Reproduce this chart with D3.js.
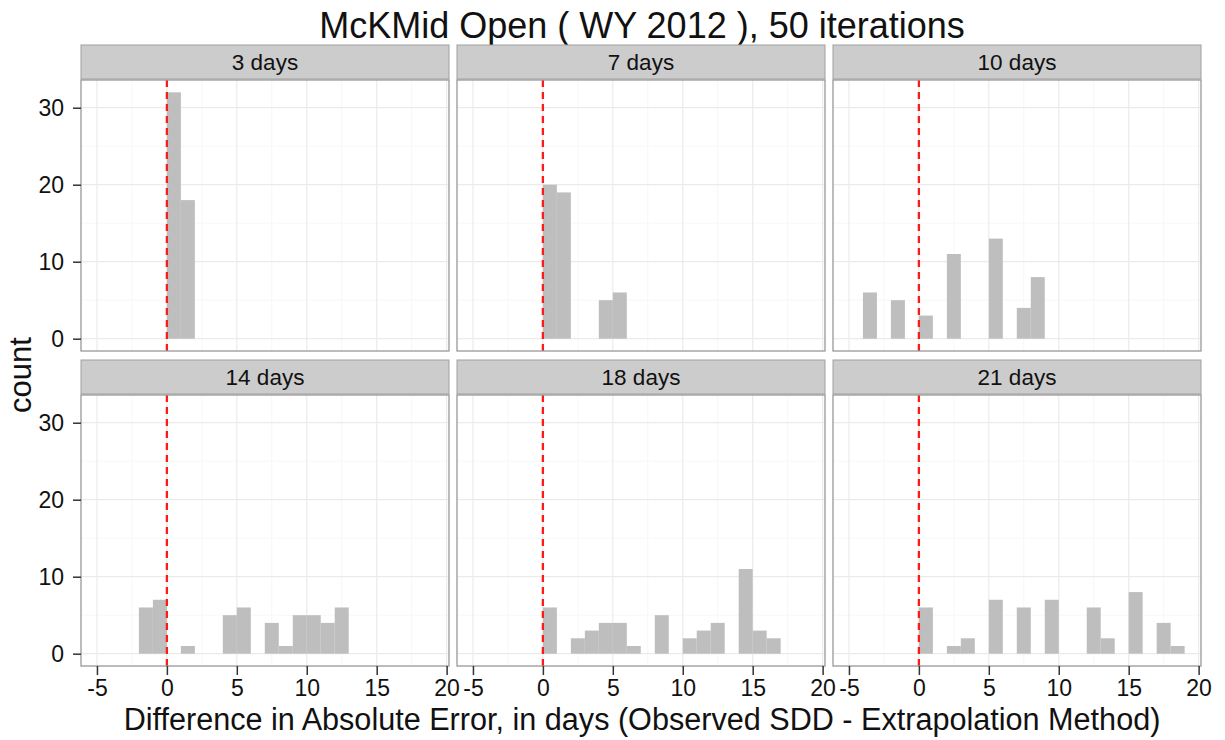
<!DOCTYPE html>
<html>
<head>
<meta charset="utf-8">
<script src="https://cdn.jsdelivr.net/npm/d3@7"></script>
<style>
    body { margin: 0; background: #fff; }
    svg { display: block; }
    text { font-family: "Liberation Sans", Arial, sans-serif; }
</style>
</head>
<body>
<svg id="chart" width="1225" height="740"></svg>
<script>
// facet labels and histogram bins (left edge of each 1-day bin) with counts
var facetLabels = ["3 days", "7 days", "10 days", "14 days", "18 days", "21 days"];

var bins3 = [0, 1];
var counts3 = [32, 18];

var bins7 = [0, 1, 4, 5];
var counts7 = [20, 19, 5, 6];

var bins10 = [-4, -2, 0, 2, 5, 7, 8];
var counts10 = [6, 5, 3, 11, 13, 4, 8];

var bins14 = [-2, -1, 1, 4, 5, 7, 8, 9, 10, 11, 12];
var counts14 = [6, 7, 1, 5, 6, 4, 1, 5, 5, 4, 6];

var bins18 = [0, 2, 3, 4, 5, 6, 8, 10, 11, 12, 14, 15, 16];
var counts18 = [6, 2, 3, 4, 4, 1, 5, 2, 3, 4, 11, 3, 2];

var bins21 = [0, 2, 3, 5, 7, 9, 12, 13, 15, 17, 18];
var counts21 = [6, 1, 2, 7, 6, 7, 6, 2, 8, 4, 1];

var xTicks = [-5, 0, 5, 10, 15, 20];
var xMinor = [-2.5, 2.5, 7.5, 12.5, 17.5];
var yTicks = [0, 10, 20, 30];
var yMinor = [5, 15, 25];

var binWidth = 1;
var refLine = 0;

var chartTitle = "McKMid Open ( WY 2012 ), 50 iterations";
var xTitle = "Difference in Absolute Error, in days (Observed SDD - Extrapolation Method)";
var yTitle = "count";

var allBins = [bins3, bins7, bins10, bins14, bins18, bins21];
var allCounts = [counts3, counts7, counts10, counts14, counts18, counts21];

var panels = facetLabels.map(function (label, i) {
    return {
        label: label,
        data: allBins[i].map(function (b, j) {
            return { x0: b, x1: b + binWidth, n: allCounts[i][j] };
        })
    };
});

var svg = d3.select("#chart");

var panelW = 368;
var panelH = 271;
var colLeft = [81, 457, 833];
var rowTop = [80, 395];
var stripH = 34;

var xScale = d3.scaleLinear()
    .domain([-6.14, 20.17])
    .range([0, panelW]);

var yScale = d3.scaleLinear()
    .domain([-1.6, 33.6])
    .range([panelH, 0]);

// plain hyphen for negatives, like the original
var plain = function (d) { return String(d); };

svg.append("text")
    .attr("x", 642)
    .attr("y", 38)
    .attr("text-anchor", "middle")
    .attr("font-size", "36px")
    .attr("fill", "#111")
    .text(chartTitle);

panels.forEach(function (p, i) {
    var col = i % 3;
    var row = Math.floor(i / 3);
    var g = svg.append("g")
        .attr("transform", "translate(" + colLeft[col] + "," + rowTop[row] + ")");

    // strip
    g.append("rect")
        .attr("x", 0)
        .attr("y", -stripH - 1)
        .attr("width", panelW)
        .attr("height", stripH)
        .attr("fill", "#cccccc")
        .attr("stroke", "#a0a0a0")
        .attr("stroke-width", 1);

    g.append("text")
        .attr("x", panelW / 2)
        .attr("y", -stripH / 2 - 1)
        .attr("dy", "0.35em")
        .attr("text-anchor", "middle")
        .attr("font-size", "22.5px")
        .attr("fill", "#111")
        .text(p.label);

    g.append("rect")
        .attr("width", panelW)
        .attr("height", panelH)
        .attr("fill", "#fff");

    // minor grid
    g.selectAll(".xminor")
        .data(xMinor)
        .enter().append("line")
        .attr("x1", function (d) { return xScale(d); })
        .attr("x2", function (d) { return xScale(d); })
        .attr("y1", 0)
        .attr("y2", panelH)
        .attr("stroke", "#f7f7f7")
        .attr("stroke-width", 1);

    g.selectAll(".yminor")
        .data(yMinor)
        .enter().append("line")
        .attr("y1", function (d) { return yScale(d); })
        .attr("y2", function (d) { return yScale(d); })
        .attr("x1", 0)
        .attr("x2", panelW)
        .attr("stroke", "#f7f7f7")
        .attr("stroke-width", 1);

    // major grid
    g.selectAll(".xmajor")
        .data(xTicks)
        .enter().append("line")
        .attr("x1", function (d) { return xScale(d); })
        .attr("x2", function (d) { return xScale(d); })
        .attr("y1", 0)
        .attr("y2", panelH)
        .attr("stroke", "#ebebeb")
        .attr("stroke-width", 1.2);

    g.selectAll(".ymajor")
        .data(yTicks)
        .enter().append("line")
        .attr("y1", function (d) { return yScale(d); })
        .attr("y2", function (d) { return yScale(d); })
        .attr("x1", 0)
        .attr("x2", panelW)
        .attr("stroke", "#ebebeb")
        .attr("stroke-width", 1.2);

    // bars
    g.selectAll(".bar")
        .data(p.data)
        .enter().append("rect")
        .attr("x", function (d) { return xScale(d.x0); })
        .attr("width", function (d) { return xScale(d.x1) - xScale(d.x0); })
        .attr("y", function (d) { return yScale(d.n); })
        .attr("height", function (d) { return yScale(0) - yScale(d.n); })
        .attr("fill", "#bebebe");

    // reference line
    g.append("line")
        .attr("x1", xScale(refLine))
        .attr("x2", xScale(refLine))
        .attr("y1", 0)
        .attr("y2", panelH)
        .attr("stroke", "#ff1a1a")
        .attr("stroke-width", 2.3)
        .attr("stroke-dasharray", "7,5");

    g.append("rect")
        .attr("width", panelW)
        .attr("height", panelH)
        .attr("fill", "none")
        .attr("stroke", "#999")
        .attr("stroke-width", 1.3);

    if (col === 0) {
        var ya = g.append("g")
            .call(d3.axisLeft(yScale).tickValues(yTicks).tickFormat(plain).tickSize(8).tickPadding(9));
        ya.select(".domain").remove();
        ya.selectAll("line").attr("stroke", "#333").attr("stroke-width", 1.5);
        ya.selectAll("text").attr("font-size", "23px").attr("fill", "#111")
            .style("font-family", "'Liberation Sans', Arial, sans-serif");
    }

    if (row === 1) {
        var xa = g.append("g")
            .attr("transform", "translate(0," + panelH + ")")
            .call(d3.axisBottom(xScale).tickValues(xTicks).tickFormat(plain).tickSize(9).tickPadding(5));
        xa.select(".domain").remove();
        xa.selectAll("line").attr("stroke", "#333").attr("stroke-width", 1.5);
        xa.selectAll("text").attr("font-size", "23px").attr("fill", "#111")
            .style("font-family", "'Liberation Sans', Arial, sans-serif");
    }
});

svg.append("text")
    .attr("x", 642)
    .attr("y", 730)
    .attr("text-anchor", "middle")
    .attr("font-size", "30.6px")
    .attr("fill", "#111")
    .text(xTitle);

svg.append("text")
    .attr("transform", "translate(31,375) rotate(-90)")
    .attr("text-anchor", "middle")
    .attr("font-size", "31px")
    .attr("fill", "#111")
    .text(yTitle);
</script>
</body>
</html>
